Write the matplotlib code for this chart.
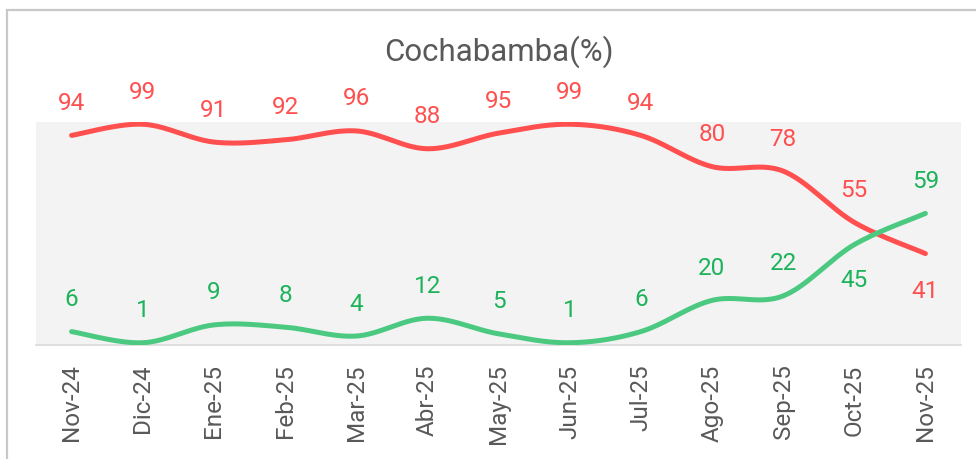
import numpy as np
import matplotlib
matplotlib.use("Agg")
import matplotlib.pyplot as plt
from matplotlib.patches import Rectangle

months = ["Nov-24", "Dic-24", "Ene-25", "Feb-25", "Mar-25", "Abr-25", "May-25",
          "Jun-25", "Jul-25", "Ago-25", "Sep-25", "Oct-25", "Nov-25"]
red_vals = [94, 99, 91, 92, 96, 88, 95, 99, 94, 80, 78, 55, 41]
green_vals = [6, 1, 9, 8, 4, 12, 5, 1, 6, 20, 22, 45, 59]
# label placement: +1 above the point, -1 below
red_pos = [1, 1, 1, 1, 1, 1, 1, 1, 1, 1, 1, 1, -1]
green_pos = [1, 1, 1, 1, 1, 1, 1, 1, 1, 1, 1, -1, 1]

RED = "#FF4F4F"
GREEN_LINE = "#4CC981"
GREEN_TEXT = "#1DB35A"
GRAY_TEXT = "#595959"

plt.rcParams["font.family"] = ["Roboto", "DejaVu Sans"]


def smooth(x, y, n=30):
    # Excel-like smoothed line: cubic bezier with Catmull-Rom control points
    x = np.asarray(x, dtype=float)
    y = np.asarray(y, dtype=float)
    pts = np.column_stack([x, y])
    out = []
    for i in range(len(pts) - 1):
        p0 = pts[i - 1] if i > 0 else pts[i]
        p1 = pts[i]
        p2 = pts[i + 1]
        p3 = pts[i + 2] if i + 2 < len(pts) else pts[i + 1]
        c1 = p1 + (p2 - p0) / 6.0
        c2 = p2 - (p3 - p1) / 6.0
        t = np.linspace(0, 1, n)[:, None]
        seg = ((1 - t) ** 3) * p1 + 3 * ((1 - t) ** 2) * t * c1 + 3 * (1 - t) * t ** 2 * c2 + t ** 3 * p2
        out.append(seg if i == 0 else seg[1:])
    out = np.vstack(out)
    return out[:, 0], out[:, 1]


fig = plt.figure(figsize=(9.76, 4.59), dpi=100)
ax = fig.add_axes([0.0369, 0.2484, 0.9477, 0.4858])
ax.set_facecolor("#F3F3F3")

x = np.arange(len(months))
sx, sy = smooth(x, red_vals)
ax.plot(sx, sy, color=RED, lw=3.6, solid_capstyle="round", zorder=3)
sx, sy = smooth(x, green_vals)
ax.plot(sx, sy, color=GREEN_LINE, lw=3.6, solid_capstyle="round", zorder=3)

for xi, v, p in zip(x, red_vals, red_pos):
    ax.annotate(str(v), (xi, v), xytext=(0, 23 if p > 0 else -27), textcoords="offset points",
                ha="center", va="center", color=RED, fontsize=17.5, annotation_clip=False)
for xi, v, p in zip(x, green_vals, green_pos):
    ax.annotate(str(v), (xi, v), xytext=(0, 23 if p > 0 else -25.5), textcoords="offset points",
                ha="center", va="center", color=GREEN_TEXT, fontsize=17.5, annotation_clip=False)

ax.set_xlim(-0.5, len(months) - 0.5)
ax.set_ylim(0, 100)
ax.set_yticks([])
ax.set_xticks(x)
ax.set_xticklabels(months, rotation=90, color=GRAY_TEXT, fontsize=17.5)
ax.tick_params(axis="x", length=0, pad=14)
for s in ["top", "left", "right"]:
    ax.spines[s].set_visible(False)
ax.spines["bottom"].set_color("#D9D9D9")
ax.spines["bottom"].set_linewidth(1.2)

fig.text(0.511, 0.887, "Cochabamba(%)", ha="center", va="center", color=GRAY_TEXT, fontsize=22.5)

fig.patches.append(Rectangle((7 / 976, -0.1), 1.2, 1 - 10 / 459 + 0.1, transform=fig.transFigure,
                             fill=False, edgecolor="#C8C8C8", lw=1.6, zorder=0))

fig.savefig("out.png", dpi=100)
